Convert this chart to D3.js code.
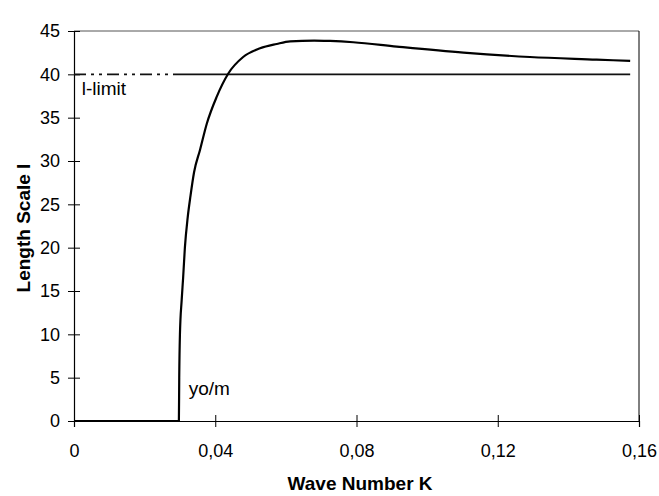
<!DOCTYPE html>
<html>
<head>
<meta charset="utf-8">
<script src="https://cdn.jsdelivr.net/npm/d3@7"></script>
<style>
  body { margin: 0; background: #fff; }
  text { font-family: "Liberation Sans", Arial, sans-serif; fill: #000; }
</style>
</head>
<body>
<svg id="chart" width="659" height="496"></svg>
<script>
// wave number K and length scale l
var waveK = [0, 0.0297, 0.0298, 0.0300, 0.0305, 0.0309, 0.0314, 0.0322, 0.0330, 0.0340,
             0.0357, 0.0376, 0.0404, 0.0437, 0.0479, 0.0527, 0.0574, 0.0612, 0.0680,
             0.0725, 0.0791, 0.0914, 0.1103, 0.1291, 0.1480, 0.1575];
var lengthL = [0, 0, 5, 10, 14, 16.5, 20, 23.5, 26, 28.7,
               31.3, 34.3, 37.4, 40.1, 42.0, 43.0, 43.5, 43.8, 43.9,
               43.85, 43.7, 43.2, 42.5, 42.0, 41.7, 41.55];

// l-limit line
var limitK = [0, 0.1575];
var limitL = [40, 40];

var xTicks = [0, 0.04, 0.08, 0.12, 0.16];
var xTickLabels = ["0", "0,04", "0,08", "0,12", "0,16"];
var yTicks = [0, 5, 10, 15, 20, 25, 30, 35, 40, 45];

var svg = d3.select('#chart');
var margin = {top: 31, right: 20, bottom: 75, left: 74};
var width = 659 - margin.left - margin.right;
var height = 496 - margin.top - margin.bottom;

var g = svg.append('g').attr('transform', `translate(${margin.left},${margin.top})`);

var x = d3.scaleLinear().domain([0, 0.16]).range([0, width]);
var y = d3.scaleLinear().domain([0, 45]).range([height, 0]);

// frame (top and right)
g.append('line').attr('x1', 0).attr('x2', width).attr('y1', 0).attr('y2', 0)
    .attr('stroke', '#555').attr('stroke-width', 1);
g.append('line').attr('x1', width).attr('x2', width).attr('y1', 0).attr('y2', height)
    .attr('stroke', '#000').attr('stroke-width', 1);

// axes
var xAxis = g.append('g')
    .attr('transform', `translate(0,${height})`)
    .call(d3.axisBottom(x).tickValues(xTicks)
        .tickFormat(function (d, i) { return xTickLabels[i]; })
        .tickSize(6).tickPadding(14));
xAxis.selectAll('.tick line').attr('y1', -6).attr('y2', 6);

var yAxis = g.append('g')
    .call(d3.axisLeft(y).tickValues(yTicks).tickSize(6).tickPadding(14));
yAxis.selectAll('.tick line').attr('x1', -6).attr('x2', 6);

[xAxis, yAxis].forEach(function (ax) {
    ax.select('.domain').attr('stroke', '#000').attr('stroke-width', 1.2);
    ax.selectAll('.tick line').attr('stroke', '#000').attr('stroke-width', 1);
    ax.selectAll('.tick text').style('font-size', '18px').attr('fill', '#000');
});
xAxis.selectAll('.tick text').attr('dy', '0.9em');
yAxis.selectAll('.tick text').attr('x', -14);

// l-limit: dash-dot near the axis, then continuous
var limitLine = d3.line()
    .x(function (d) { return x(d[0]); })
    .y(function (d) { return y(d[1]); });
g.append('path')
    .datum(d3.zip(limitK, limitL))
    .attr('d', limitLine)
    .attr('fill', 'none')
    .attr('stroke', '#111')
    .attr('stroke-width', 1.6)
    .attr('stroke-dasharray', '12,5,3,5,3,5,12,5,3,5,3,5,12,5,3,5,3,5,2000');

// main curve
var curve = d3.line()
    .x(function (d) { return x(d[0]); })
    .y(function (d) { return y(d[1]); })
    .curve(d3.curveMonotoneX);
g.append('path')
    .datum(d3.zip(waveK, lengthL))
    .attr('d', curve)
    .attr('fill', 'none')
    .attr('stroke', '#000')
    .attr('stroke-width', 2.2)
    .attr('stroke-linejoin', 'round');

// labels inside the plot
g.append('text').attr('x', x(0.0022)).attr('y', y(40) + 21)
    .style('font-size', '19px').text('l-limit');
g.append('text').attr('x', x(0.0325)).attr('y', y(0) - 26)
    .style('font-size', '19px').text('yo/m');

// axis titles
svg.append('text')
    .attr('x', margin.left + x(0.081)).attr('y', 490)
    .attr('text-anchor', 'middle')
    .style('font-size', '19px').style('font-weight', 'bold')
    .text('Wave Number K');
svg.append('text')
    .attr('transform', 'translate(30,228) rotate(-90)')
    .attr('text-anchor', 'middle')
    .style('font-size', '19px').style('font-weight', 'bold')
    .text('Length Scale l');
</script>
</body>
</html>
